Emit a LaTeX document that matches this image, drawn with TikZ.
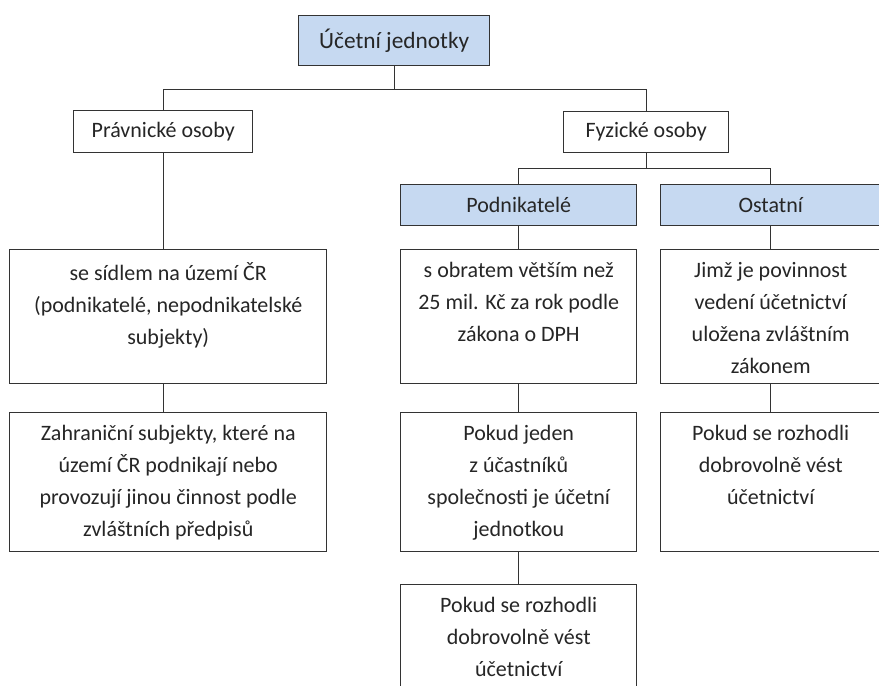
\documentclass[tikz,border=0pt]{standalone}
\usepackage{fontspec}
\setmainfont{Carlito}
\usepackage{xcolor}
\usepackage{tikz}
\usetikzlibrary{positioning}

\definecolor{headblue}{RGB}{198,217,241}
\definecolor{inkgray}{RGB}{38,38,38}
\definecolor{linegray}{RGB}{51,51,51}

% text block of a box: width, height, lines (top aligned)
\newcommand{\celltext}[3]{\parbox[c][#2][t]{#1}{\centering\vspace*{9.5pt}#3}}

\begin{document}
\begin{tikzpicture}[x=0.75pt, y=-0.75pt,
    font=\fontsize{16.5}{24}\selectfont, text=inkgray,
    box/.style={draw=linegray, line width=1.1pt, fill=white, inner sep=0pt, anchor=north west},
    headbox/.style={box, fill=headblue},
    link/.style={draw=linegray, line width=1pt}]
    \clip (0,0) rectangle (879,686);

    % Top level
    \node[headbox, minimum width=143.25pt, minimum height=37.5pt] (root) at (298,15) {\fontsize{17.5}{20}\selectfont Účetní jednotky};
    \node[box, minimum width=134.25pt, minimum height=31.5pt] (prav) at (73,109.5) {Právnické osoby};
    \node[box, minimum width=123.75pt, minimum height=31pt] (fyz) at (563,110.5) {Fyzické osoby};
    \path (root.south) ++(0,23) coordinate (bus);

    % Pravnicke osoby
    \node[box] (sidlem) at (9,249) {\celltext{237.75pt}{100.5pt}{se sídlem na území ČR\\ (podnikatelé, nepodnikatelské\\ subjekty)}};
    \node[box] (zahr) at (9,412) {\celltext{237.75pt}{104.25pt}{Zahraniční subjekty, které na\\ území ČR podnikají nebo\\ provozují jinou činnost podle\\ zvláštních předpisů}};

    % Fyzicke osoby
    \node[headbox, minimum width=177pt, minimum height=30.75pt] (podn) at (400,184) {Podnikatelé};
    \node[headbox, minimum width=165pt, minimum height=30.75pt] (ost) at (660,184) {Ostatní};
    \path (fyz.south) ++(0,15) coordinate (fbus);

    \node[box] (obrat) at (400,249) {\celltext{177pt}{100.5pt}{s obratem větším než\\ 25 mil. Kč za rok podle\\ zákona o DPH}};
    \node[box] (ucast) at (400,412) {\celltext{177pt}{104.25pt}{Pokud jeden\\ z účastníků\\ společnosti je účetní\\ jednotkou}};
    \node[box] (dobr) at (400,584) {\celltext{177pt}{104.25pt}{Pokud se rozhodli\\ dobrovolně vést\\ účetnictví}};

    \node[box] (zakon) at (660,249) {\celltext{165pt}{100.5pt}{Jimž je povinnost\\ vedení účetnictví\\ uložena zvláštním\\ zákonem}};
    \node[box] (dobr2) at (660,412) {\celltext{165pt}{104.25pt}{Pokud se rozhodli\\ dobrovolně vést\\ účetnictví}};

    % Connectors
    \draw[link] (root.south) -- (bus);
    \draw[link] (prav.north) |- (bus) -| (fyz.north);
    \draw[link] (prav.south) -- (prav.south |- sidlem.north);
    \draw[link] (prav.south |- sidlem.south) -- (prav.south |- zahr.north);
    \draw[link] (fyz.south) -- (fbus);
    \draw[link] (podn.north) |- (fbus) -| (ost.north);
    \draw[link] (podn.south) -- (obrat.north);
    \draw[link] (obrat.south) -- (ucast.north);
    \draw[link] (ucast.south) -- (dobr.north);
    \draw[link] (ost.south) -- (zakon.north);
    \draw[link] (zakon.south) -- (dobr2.north);
\end{tikzpicture}
\end{document}
